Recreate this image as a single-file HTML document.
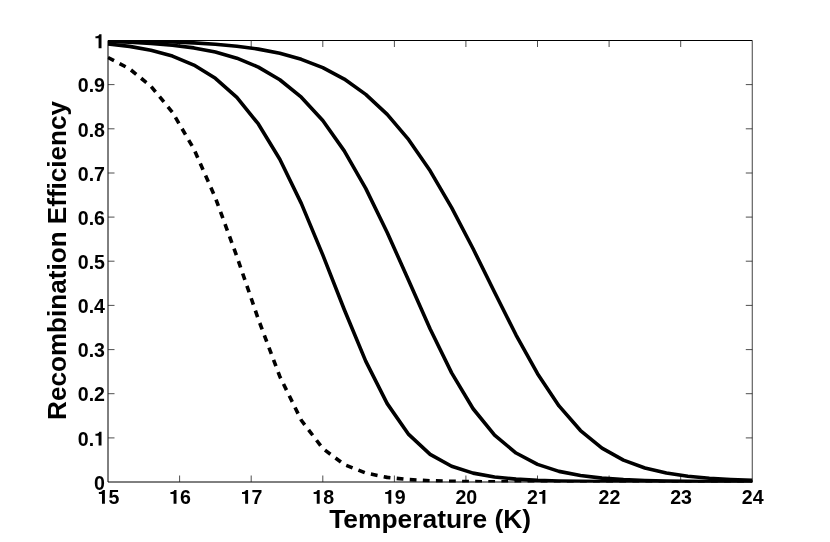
<!DOCTYPE html>
<html><head><meta charset="utf-8"><title>Recombination Efficiency</title>
<style>
html,body{margin:0;padding:0;background:#fff;}
svg{display:block;will-change:transform;}
text{font-family:"Liberation Sans",sans-serif;font-weight:bold;fill:#000;}
</style></head><body>
<svg width="830" height="542" viewBox="0 0 830 542">
<rect x="0" y="0" width="830" height="542" fill="#fff"/>
<g stroke="#000" stroke-width="1" fill="none">
<path d="M752.3,40.5 H108.0 V482.0 H752.3"/>
<path d="M752.25,40.5 V482.0" stroke-width="0.75"/>
</g>
<g stroke="#222" stroke-width="0.8" fill="none">
<line x1="179.6" y1="482.0" x2="179.6" y2="475.5"/><line x1="179.6" y1="40.5" x2="179.6" y2="47.0"/><line x1="251.2" y1="482.0" x2="251.2" y2="475.5"/><line x1="251.2" y1="40.5" x2="251.2" y2="47.0"/><line x1="322.8" y1="482.0" x2="322.8" y2="475.5"/><line x1="322.8" y1="40.5" x2="322.8" y2="47.0"/><line x1="394.4" y1="482.0" x2="394.4" y2="475.5"/><line x1="394.4" y1="40.5" x2="394.4" y2="47.0"/><line x1="465.9" y1="482.0" x2="465.9" y2="475.5"/><line x1="465.9" y1="40.5" x2="465.9" y2="47.0"/><line x1="537.5" y1="482.0" x2="537.5" y2="475.5"/><line x1="537.5" y1="40.5" x2="537.5" y2="47.0"/><line x1="609.1" y1="482.0" x2="609.1" y2="475.5"/><line x1="609.1" y1="40.5" x2="609.1" y2="47.0"/><line x1="680.7" y1="482.0" x2="680.7" y2="475.5"/><line x1="680.7" y1="40.5" x2="680.7" y2="47.0"/><line x1="108.0" y1="437.9" x2="114.5" y2="437.9"/><line x1="752.3" y1="437.9" x2="745.8" y2="437.9"/><line x1="108.0" y1="393.7" x2="114.5" y2="393.7"/><line x1="752.3" y1="393.7" x2="745.8" y2="393.7"/><line x1="108.0" y1="349.6" x2="114.5" y2="349.6"/><line x1="752.3" y1="349.6" x2="745.8" y2="349.6"/><line x1="108.0" y1="305.4" x2="114.5" y2="305.4"/><line x1="752.3" y1="305.4" x2="745.8" y2="305.4"/><line x1="108.0" y1="261.2" x2="114.5" y2="261.2"/><line x1="752.3" y1="261.2" x2="745.8" y2="261.2"/><line x1="108.0" y1="217.1" x2="114.5" y2="217.1"/><line x1="752.3" y1="217.1" x2="745.8" y2="217.1"/><line x1="108.0" y1="173.0" x2="114.5" y2="173.0"/><line x1="752.3" y1="173.0" x2="745.8" y2="173.0"/><line x1="108.0" y1="128.8" x2="114.5" y2="128.8"/><line x1="752.3" y1="128.8" x2="745.8" y2="128.8"/><line x1="108.0" y1="84.6" x2="114.5" y2="84.6"/><line x1="752.3" y1="84.6" x2="745.8" y2="84.6"/>
</g>
<defs><clipPath id="box"><rect x="107.6" y="40" width="645.2" height="442.5"/></clipPath></defs>
<g clip-path="url(#box)" fill="none" stroke="#000" stroke-width="3.6" stroke-linejoin="round" stroke-linecap="butt">
<polyline stroke-dasharray="6.8,6.3" points="108.00,57.47 129.48,68.76 150.95,86.25 172.43,112.26 193.91,149.06 215.38,197.71 236.86,256.47 258.34,319.21 279.81,376.48 301.29,420.22 322.77,448.45 344.24,464.52 365.72,473.02 387.20,477.37 408.67,479.59 430.15,480.72 451.63,481.31 473.10,481.62 494.58,481.79 516.06,481.88 537.53,481.93 559.01,481.96 580.49,481.98 601.96,481.99 623.44,481.99 644.92,481.99 666.39,482.00 687.87,482.00 709.35,482.00 730.82,482.00 752.30,482.00"/>
<polyline points="108.00,43.98 129.48,46.36 150.95,50.15 172.43,56.06 193.91,65.04 215.38,78.34 236.86,97.46 258.34,123.99 279.81,159.20 301.29,203.38 322.77,254.89 344.24,309.53 365.72,361.08 387.20,403.65 408.67,434.44 430.15,454.36 451.63,466.30 473.10,473.13 494.58,476.98 516.06,479.13 537.53,480.34 559.01,481.03 580.49,481.42 601.96,481.65 623.44,481.79 644.92,481.87 666.39,481.92 687.87,481.95 709.35,481.97 730.82,481.98 752.30,481.99"/>
<polyline points="108.00,41.53 129.48,42.24 150.95,43.38 172.43,45.17 193.91,47.91 215.38,52.06 236.86,58.21 258.34,67.11 279.81,79.74 301.29,97.18 322.77,120.58 344.24,150.88 365.72,188.41 387.20,232.42 408.67,280.56 430.15,328.92 451.63,372.88 473.10,408.75 494.58,435.17 516.06,453.03 537.53,464.40 559.01,471.37 580.49,475.57 601.96,478.09 623.44,479.60 644.92,480.51 666.39,481.06 687.87,481.41 709.35,481.62 730.82,481.75 752.30,481.84"/>
<polyline points="108.00,40.83 129.48,41.05 150.95,41.42 172.43,41.98 193.91,42.86 215.38,44.20 236.86,46.19 258.34,49.12 279.81,53.34 301.29,59.33 322.77,67.68 344.24,79.09 365.72,94.37 387.20,114.33 408.67,139.69 430.15,170.84 451.63,207.57 473.10,248.77 494.58,292.27 516.06,335.01 537.53,373.72 559.01,405.90 580.49,430.55 601.96,448.18 623.44,460.14 644.92,467.97 666.39,473.01 687.87,476.22 709.35,478.26 730.82,479.56 752.30,480.39"/>
</g>
<g font-size="19.6px" fill="#000"><path transform="translate(97.50,503.80) scale(0.01960,-0.01960)" d="M229,0 L378,0 L378,710 L266,710 C250,642 180,604 69,604 L69,505 L229,505 Z"/><text x="108.40" y="503.80">5</text><path transform="translate(169.09,503.80) scale(0.01960,-0.01960)" d="M229,0 L378,0 L378,710 L266,710 C250,642 180,604 69,604 L69,505 L229,505 Z"/><text x="179.99" y="503.80">6</text><path transform="translate(240.68,503.80) scale(0.01960,-0.01960)" d="M229,0 L378,0 L378,710 L266,710 C250,642 180,604 69,604 L69,505 L229,505 Z"/><text x="251.58" y="503.80">7</text><path transform="translate(312.27,503.80) scale(0.01960,-0.01960)" d="M229,0 L378,0 L378,710 L266,710 C250,642 180,604 69,604 L69,505 L229,505 Z"/><text x="323.17" y="503.80">8</text><path transform="translate(383.86,503.80) scale(0.01960,-0.01960)" d="M229,0 L378,0 L378,710 L266,710 C250,642 180,604 69,604 L69,505 L229,505 Z"/><text x="394.76" y="503.80">9</text><text x="455.45" y="503.80">20</text><text x="527.04" y="503.80">2</text><path transform="translate(537.93,503.80) scale(0.01960,-0.01960)" d="M229,0 L378,0 L378,710 L266,710 C250,642 180,604 69,604 L69,505 L229,505 Z"/><text x="598.62" y="503.80">22</text><text x="670.21" y="503.80">23</text><text x="741.80" y="503.80">24</text><text x="94.10" y="489.70">0</text><text x="77.76" y="445.55">0.</text><path transform="translate(94.10,445.55) scale(0.01960,-0.01960)" d="M229,0 L378,0 L378,710 L266,710 C250,642 180,604 69,604 L69,505 L229,505 Z"/><text x="77.76" y="401.40">0.2</text><text x="77.76" y="357.25">0.3</text><text x="77.76" y="313.10">0.4</text><text x="77.76" y="268.95">0.5</text><text x="77.76" y="224.80">0.6</text><text x="77.76" y="180.65">0.7</text><text x="77.76" y="136.50">0.8</text><text x="77.76" y="92.35">0.9</text><path transform="translate(94.10,48.20) scale(0.01960,-0.01960)" d="M229,0 L378,0 L378,710 L266,710 C250,642 180,604 69,604 L69,505 L229,505 Z"/></g>
<text x="430.1" y="528.0" font-size="26.4px" text-anchor="middle">Temperature (K)</text>
<text transform="translate(66,260.4) rotate(-90)" font-size="26.1px" text-anchor="middle">Recombination Efficiency</text>
</svg>
</body></html>
